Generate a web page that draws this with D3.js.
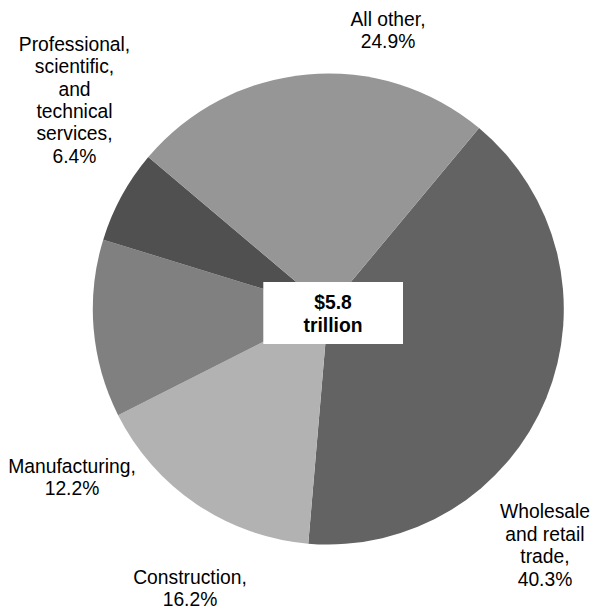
<!DOCTYPE html>
<html>
<head>
<meta charset="utf-8">
<script src="https://cdn.jsdelivr.net/npm/d3@7/dist/d3.min.js"></script>
<style>
  html, body { margin: 0; padding: 0; background: #fff; }
  svg { display: block; }
  text { font-family: "Liberation Sans", Arial, sans-serif; font-size: 19.3px; fill: #000; }
</style>
</head>
<body>
<svg id="chart" width="593" height="608"></svg>
<script>
const categories = ["Wholesale and retail trade", "Construction", "Manufacturing", "Professional, scientific, and technical services", "All other"];
const shares = [40.3, 16.2, 12.2, 6.4, 24.9];
const colors = ["#636363", "#b2b2b2", "#808080", "#505050", "#969696"];
const labelLines = [
  ["Wholesale", "and retail", "trade,", "40.3%"],
  ["Construction,", "16.2%"],
  ["Manufacturing,", "12.2%"],
  ["Professional,", "scientific,", "and", "technical", "services,", "6.4%"],
  ["All other,", "24.9%"]
];
const labelPos = [[545, 518.3], [190, 584], [72, 473], [74.5, 50.7], [388, 26]];
const centerLabel = ["$5.8", "trillion"];

const svg = d3.select("#chart");
const cx = 328.3, cy = 309, r = 235.5;
const start = 39.8 * Math.PI / 180;

const pie = d3.pie().sort(null).value(d => d).startAngle(start).endAngle(start + 2 * Math.PI);
const arc = d3.arc().innerRadius(0).outerRadius(r);
const color = d3.scaleOrdinal().domain(categories).range(colors);

const g = svg.append("g").attr("transform", `translate(${cx},${cy})`);
g.selectAll("path")
  .data(pie(shares))
  .join("path")
  .attr("d", arc)
  .attr("fill", (d, i) => color(categories[i]));

// slice labels
labelLines.forEach((lines, i) => {
  const t = svg.append("text")
    .attr("text-anchor", "middle")
    .attr("x", labelPos[i][0])
    .attr("y", labelPos[i][1]);
  lines.forEach((ln, j) => {
    t.append("tspan")
      .attr("x", labelPos[i][0])
      .attr("dy", j === 0 ? 0 : 22.4)
      .text(ln);
  });
});

// center label box
svg.append("rect")
  .attr("x", 263.3).attr("y", 282)
  .attr("width", 139.7).attr("height", 62)
  .attr("fill", "#fff");
const ct = svg.append("text")
  .attr("text-anchor", "middle")
  .attr("font-weight", "bold")
  .attr("x", 333).attr("y", 308.7);
centerLabel.forEach((ln, j) => {
  ct.append("tspan").attr("x", 333).attr("dy", j === 0 ? 0 : 23).text(ln);
});
</script>
</body>
</html>
